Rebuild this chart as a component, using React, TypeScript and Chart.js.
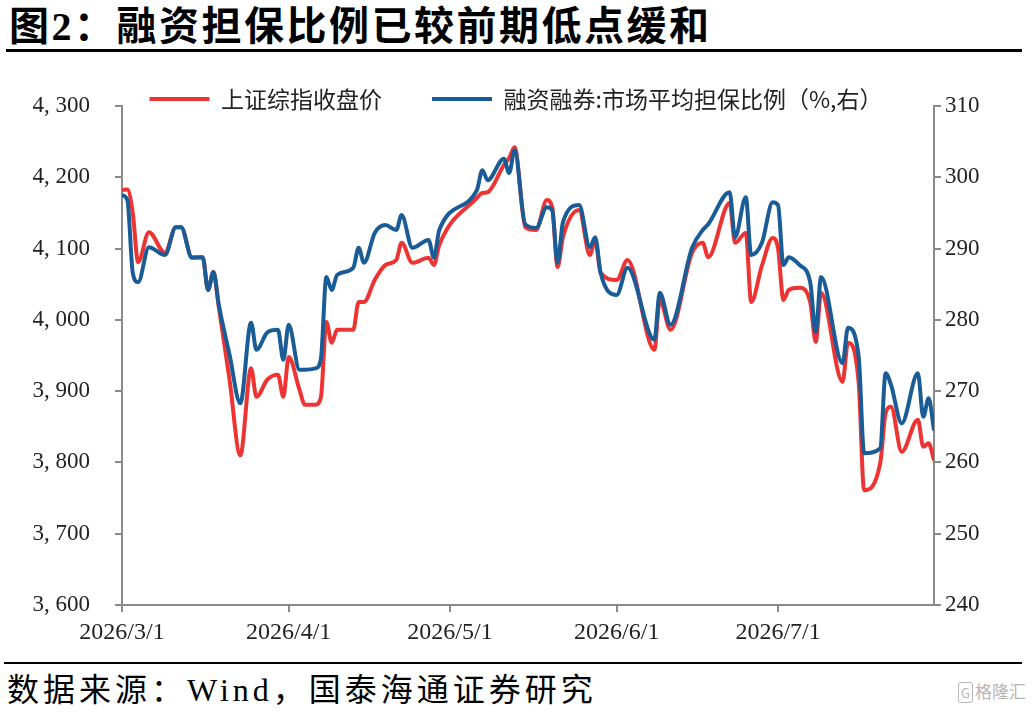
import React, { useEffect, useRef } from "react";
import { Chart, registerables } from "chart.js";

Chart.register(...registerables);

// ---- data ----
const dates = [
  "2026/3/1", "2026/3/2", "2026/3/3", "2026/3/4", "2026/3/6", "2026/3/9", "2026/3/11", "2026/3/12", "2026/3/14", "2026/3/16",
  "2026/3/17", "2026/3/18", "2026/3/19", "2026/3/21", "2026/3/23", "2026/3/25", "2026/3/26", "2026/3/28", "2026/3/30", "2026/3/31",
  "2026/4/1", "2026/4/3", "2026/4/4", "2026/4/6", "2026/4/7", "2026/4/8", "2026/4/9", "2026/4/10", "2026/4/13", "2026/4/14",
  "2026/4/15", "2026/4/17", "2026/4/19", "2026/4/21", "2026/4/22", "2026/4/24", "2026/4/27", "2026/4/28", "2026/4/29", "2026/5/6",
  "2026/5/7", "2026/5/8", "2026/5/11", "2026/5/12", "2026/5/13", "2026/5/15", "2026/5/17", "2026/5/19", "2026/5/20", "2026/5/21",
  "2026/5/22", "2026/5/25", "2026/5/27", "2026/5/28", "2026/5/29", "2026/6/1", "2026/6/3", "2026/6/8", "2026/6/9", "2026/6/11",
  "2026/6/15", "2026/6/17", "2026/6/18", "2026/6/22", "2026/6/23", "2026/6/25", "2026/6/26", "2026/6/28", "2026/6/30", "2026/7/1",
  "2026/7/2", "2026/7/3", "2026/7/5", "2026/7/7", "2026/7/8", "2026/7/9", "2026/7/13", "2026/7/14", "2026/7/16", "2026/7/17",
  "2026/7/20", "2026/7/21", "2026/7/22", "2026/7/24", "2026/7/27", "2026/7/28", "2026/7/29", "2026/7/30",
];

const sseClose = [
  4182, 4183, 4150, 4081, 4123, 4094, 4130, 4130, 4088, 4088,
  4042, 4067, 4018, 3916, 3810, 3932, 3892, 3916, 3923, 3892,
  3948, 3902, 3881, 3881, 3892, 3997, 3968, 3986, 3986, 4025,
  4025, 4056, 4077, 4084, 4108, 4080, 4087, 4077, 4105, 4171,
  4178, 4179, 4217, 4227, 4242, 4130, 4126, 4168, 4158, 4074,
  4116, 4154, 4091, 4112, 4066, 4056, 4084, 3958, 4028, 3986,
  4094, 4108, 4088, 4164, 4108, 4122, 4025, 4076, 4115, 4100,
  4028, 4042, 4045, 4024, 3969, 4038, 3913, 3968, 3911, 3761,
  3799, 3869, 3878, 3815, 3860, 3822, 3827, 3803,
];

const marginRatio = [
  297.5, 296.8, 286.6, 285.3, 290.2, 289.1, 293.0, 293.0, 288.7, 288.8,
  284.2, 286.7, 282.1, 275.1, 268.3, 279.6, 275.8, 278.2, 278.6, 274.4,
  279.3, 273.0, 273.0, 273.2, 274.6, 286.0, 284.2, 286.3, 287.3, 290.1,
  288.0, 292.2, 293.3, 292.6, 294.7, 290.1, 291.2, 288.7, 292.6, 298.2,
  301.0, 299.6, 302.6, 300.6, 303.8, 293.4, 292.9, 295.8, 295.4, 288.0,
  293.7, 296.1, 290.2, 291.6, 286.6, 283.5, 287.3, 277.2, 283.8, 279.3,
  290.1, 292.6, 293.4, 297.9, 291.6, 297.2, 289.1, 290.8, 296.5, 296.1,
  287.7, 288.8, 287.7, 285.2, 278.3, 286.0, 273.9, 278.9, 274.8, 261.3,
  262.0, 272.5, 270.9, 265.5, 272.5, 266.4, 269.0, 264.5,
];

const xTickLabels = ["2026/3/1", "2026/4/1", "2026/5/1", "2026/6/1", "2026/7/1"];
const xStart = "2026/3/1";
const xEnd = "2026/7/30";
const leftRange = [3600, 4300];
const rightRange = [240, 310];

const seriesNames = ["上证综指收盘价", "融资融券:市场平均担保比例（%,右）"];
const titleText = "图2：融资担保比例已较前期低点缓和";
const sourceText = "数据来源：Wind，国泰海通证券研究";

// ---- helpers ----
const dayOffset = (s: string) => {
  const [y, m, d] = s.split("/").map(Number);
  const [y0, m0, d0] = xStart.split("/").map(Number);
  return Math.round((Date.UTC(y, m - 1, d) - Date.UTC(y0, m0 - 1, d0)) / 86400000);
};
const fmtThousands = (v: number) => {
  const s = Math.round(v).toString();
  return s.length > 3 ? s.slice(0, -3) + ", " + s.slice(-3) : s;
};

const AXIS_COLOR = "#8a8a8a";
const TICK_FONT = { family: "'Liberation Serif', 'Times New Roman', serif", size: 23 };
const CJK = "'Noto Sans CJK SC', 'Noto Sans', sans-serif";

// let the legend draw beyond its (deliberately short) layout box
const legendUnclip = {
  id: "legendUnclip",
  afterLayout(chart: any) {
    if (chart.legend) {
      chart.legend.bottom = chart.legend.top + 100;
      chart.legend.height = 100;
    }
  },
};

export default function App() {
  const ref = useRef<HTMLCanvasElement | null>(null);

  useEffect(() => {
    if (!ref.current) return;
    const chart = new Chart(ref.current, {
      type: "line",
      data: {
        datasets: [
          {
            label: seriesNames[0],
            data: dates.map((d, i) => ({ x: dayOffset(d), y: sseClose[i] })),
            borderColor: "#EE3333",
            backgroundColor: "#EE3333",
            borderWidth: 4,
            pointRadius: 0,
            cubicInterpolationMode: "monotone",
            yAxisID: "y",
            order: 1,
          },
          {
            label: seriesNames[1],
            data: dates.map((d, i) => ({ x: dayOffset(d), y: marginRatio[i] })),
            borderColor: "#1A5C96",
            backgroundColor: "#1A5C96",
            borderWidth: 4,
            pointRadius: 0,
            cubicInterpolationMode: "monotone",
            yAxisID: "y1",
            order: 0,
          },
        ],
      },
      plugins: [legendUnclip],
      options: {
        responsive: false,
        animation: false,
        layout: { padding: { top: 37.5, left: 0, right: 0, bottom: 0 } },
        plugins: {
          tooltip: { enabled: false },
          legend: {
            position: "top",
            align: "center",
            maxHeight: 68.5,
            labels: {
              usePointStyle: true,
              pointStyle: "line",
              pointStyleWidth: 60,
              padding: 50,
              color: "#222",
              font: { family: CJK, size: 23 },
              sort: (a: any, b: any) => a.datasetIndex - b.datasetIndex,
            },
          },
        },
        scales: {
          x: {
            type: "linear",
            min: dayOffset(xStart),
            max: dayOffset(xEnd),
            afterBuildTicks: (s: any) => {
              s.ticks = xTickLabels.map((d) => ({ value: dayOffset(d) }));
            },
            afterFit: (s: any) => {
              s.height = 55;
            },
            grid: { display: true, drawOnChartArea: false, drawTicks: true, tickLength: 7, color: AXIS_COLOR, lineWidth: 2 },
            border: { display: true, color: AXIS_COLOR, width: 2 },
            ticks: {
              autoSkip: false,
              maxRotation: 0,
              padding: 6,
              color: "#222",
              font: { ...TICK_FONT, size: 24 },
              callback: (_v: any, i: number) => xTickLabels[i],
            },
          },
          y: {
            type: "linear",
            position: "left",
            min: leftRange[0],
            max: leftRange[1],
            afterFit: (s: any) => {
              s.width = 122;
            },
            grid: { display: true, drawOnChartArea: false, drawTicks: true, tickLength: 7, color: AXIS_COLOR, lineWidth: 2 },
            border: { display: true, color: AXIS_COLOR, width: 2 },
            ticks: {
              stepSize: 100,
              padding: 25,
              color: "#222",
              font: TICK_FONT,
              callback: (v: any) => fmtThousands(Number(v)),
            },
          },
          y1: {
            type: "linear",
            position: "right",
            min: rightRange[0],
            max: rightRange[1],
            afterFit: (s: any) => {
              s.width = 98;
            },
            grid: { display: true, drawOnChartArea: false, drawTicks: true, tickLength: 7, color: AXIS_COLOR, lineWidth: 2 },
            border: { display: true, color: AXIS_COLOR, width: 2 },
            ticks: {
              stepSize: 10,
              padding: 4,
              color: "#222",
              font: TICK_FONT,
              callback: (v: any) => String(v),
            },
          },
        },
      },
    } as any);
    return () => chart.destroy();
  }, []);

  return (
    <div style={{ position: "fixed", left: 0, top: 0, width: 1032, height: 714, background: "#fff", overflow: "hidden" }}>
      <div
        style={{
          position: "absolute",
          left: 9,
          top: 6,
          fontFamily: "'Liberation Serif', " + CJK,
          fontWeight: 700,
          fontSize: 40,
          lineHeight: "42px",
          letterSpacing: "2.5px",
          color: "#000",
          whiteSpace: "nowrap",
        }}
      >
        {titleText}
      </div>
      <div style={{ position: "absolute", left: 6, top: 49, width: 1016, height: 3, background: "#000" }} />
      <canvas ref={ref} width={1032} height={660} style={{ position: "absolute", left: 0, top: 0, width: 1032, height: 660 }} />
      <div style={{ position: "absolute", left: 4, top: 662, width: 1018, height: 2, background: "#000" }} />
      <div
        style={{
          position: "absolute",
          left: 7,
          top: 672,
          fontFamily: "'Liberation Serif', " + CJK,
          fontSize: 32,
          lineHeight: "36px",
          letterSpacing: "4px",
          color: "#000",
          whiteSpace: "nowrap",
        }}
      >
        {sourceText}
      </div>
      <div
        style={{
          position: "absolute",
          left: 958,
          top: 680,
          fontFamily: CJK,
          fontSize: 17,
          lineHeight: "22px",
          color: "#b5b5b5",
          whiteSpace: "nowrap",
        }}
      >
        <span style={{ border: "1.5px solid #b5b5b5", borderRadius: 3, padding: "0 2px", marginRight: 2, fontSize: 13 }}>G</span>
        格隆汇
      </div>
    </div>
  );
}
